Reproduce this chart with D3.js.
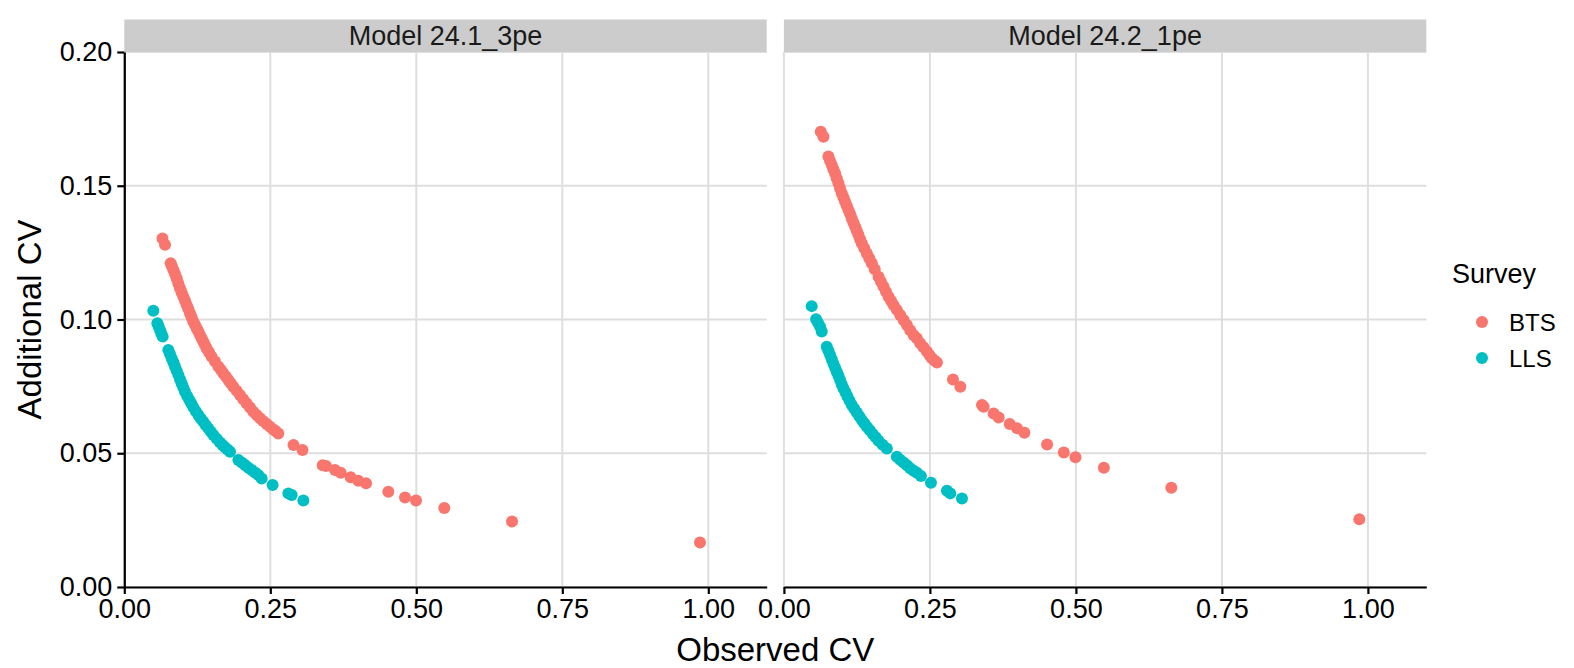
<!DOCTYPE html>
<html>
<head>
<meta charset="utf-8">
<script src="https://cdn.jsdelivr.net/npm/d3@7"></script>
<style>
  body { margin: 0; background: #fff; }
  svg { display: block; }
  text { font-family: "Liberation Sans", Arial, sans-serif; }
</style>
</head>
<body>
<div id="chart"></div>
<script>
// Facets and series
const models = ['Model 24.1_3pe', 'Model 24.2_1pe'];
const surveys = ['BTS', 'LLS'];
const surveyColors = ['#F8766D', '#00BFC4'];

const xTicks = [0, 0.25, 0.5, 0.75, 1.0];
const yTicks = [0, 0.05, 0.10, 0.15, 0.20];

// Model 24.1_3pe
const obsBTS1 = [0.0654, 0.0697,
  0.0794, 0.0817, 0.0840, 0.0868, 0.0897, 0.0925, 0.0954, 0.0982, 0.1011, 0.1040,
  0.1068, 0.1096, 0.1125, 0.1153, 0.1182, 0.1210, 0.1239, 0.1268, 0.1296, 0.1325,
  0.1353, 0.1381, 0.1410, 0.1453, 0.1496, 0.1553, 0.1610, 0.1653, 0.1696, 0.1738,
  0.1781, 0.1824, 0.1867, 0.1924, 0.1981, 0.2038, 0.2095, 0.2152, 0.2209, 0.2266,
  0.2324, 0.2381, 0.2438, 0.2495, 0.2552, 0.2595, 0.2637,
  0.2897, 0.3051, 0.3397, 0.3454, 0.3608, 0.3705, 0.3876, 0.4007, 0.4139, 0.4521,
  0.4807, 0.4995, 0.5480, 0.6639, 0.9858];
const addBTS1 = [0.1303, 0.1279,
  0.1210, 0.1198, 0.1185, 0.1170, 0.1154, 0.1135, 0.1117, 0.1101, 0.1085, 0.1070,
  0.1054, 0.1039, 0.1023, 0.1008, 0.0992, 0.0980, 0.0967, 0.0955, 0.0942, 0.0930,
  0.0917, 0.0905, 0.0892, 0.0877, 0.0861, 0.0843, 0.0824, 0.0812, 0.0799, 0.0787,
  0.0774, 0.0762, 0.0749, 0.0734, 0.0718, 0.0702, 0.0686, 0.0671, 0.0655, 0.0643,
  0.0631, 0.0620, 0.0609, 0.0599, 0.0589, 0.0582, 0.0574,
  0.0531, 0.0512, 0.0455, 0.0452, 0.0437, 0.0427, 0.0410, 0.0397, 0.0388, 0.0356,
  0.0335, 0.0323, 0.0295, 0.0245, 0.0166];
const obsLLS1 = [0.0497, 0.0566, 0.0588, 0.0611, 0.0634, 0.0657,
  0.0754, 0.0782, 0.0811, 0.0840, 0.0868, 0.0897, 0.0925, 0.0954, 0.0982, 0.1010,
  0.1039, 0.1076, 0.1114, 0.1148, 0.1182, 0.1225, 0.1268, 0.1310, 0.1353, 0.1396,
  0.1439, 0.1482, 0.1525, 0.1582, 0.1639, 0.1682, 0.1724, 0.1767, 0.1810,
  0.1953, 0.2010, 0.2067, 0.2124, 0.2181, 0.2238, 0.2295, 0.2352,
  0.2540, 0.2809, 0.2866, 0.3066];
const addLLS1 = [0.1033, 0.0986, 0.0974, 0.0961, 0.0948, 0.0936,
  0.0886, 0.0871, 0.0855, 0.0840, 0.0824, 0.0808, 0.0793, 0.0777, 0.0761, 0.0746,
  0.0730, 0.0714, 0.0699, 0.0686, 0.0672, 0.0657, 0.0643, 0.0630, 0.0618, 0.0605,
  0.0593, 0.0580, 0.0568, 0.0554, 0.0540, 0.0531, 0.0522, 0.0514, 0.0506,
  0.0475, 0.0465, 0.0456, 0.0446, 0.0437, 0.0428, 0.0419, 0.0406,
  0.0381, 0.0350, 0.0344, 0.0323];

// Model 24.2_1pe
const obsBTS2 = [0.0631, 0.0677,
  0.0762, 0.0790, 0.0819, 0.0848, 0.0877, 0.0905, 0.0934, 0.0962, 0.0991, 0.1020,
  0.1048, 0.1077, 0.1105, 0.1134, 0.1162, 0.1191, 0.1220, 0.1248, 0.1277, 0.1305,
  0.1334, 0.1377, 0.1420, 0.1462, 0.1505, 0.1555,
  0.1620, 0.1662, 0.1705, 0.1748, 0.1791, 0.1834, 0.1877, 0.1934, 0.1991, 0.2049,
  0.2106, 0.2163, 0.2220, 0.2277, 0.2334, 0.2391, 0.2449, 0.2492, 0.2535, 0.2578, 0.2620,
  0.2895, 0.3021, 0.3392, 0.3420, 0.3592, 0.3678, 0.3867, 0.3993, 0.4118, 0.4507,
  0.4793, 0.4993, 0.5479, 0.6634, 0.9853];
const addBTS2 = [0.1702, 0.1683,
  0.1609, 0.1593, 0.1578, 0.1562, 0.1546, 0.1528, 0.1509, 0.1490, 0.1472, 0.1456,
  0.1440, 0.1425, 0.1409, 0.1394, 0.1378, 0.1362, 0.1347, 0.1332, 0.1316, 0.1300,
  0.1285, 0.1266, 0.1247, 0.1229, 0.1210, 0.1188,
  0.1160, 0.1141, 0.1123, 0.1104, 0.1085, 0.1070, 0.1054, 0.1036, 0.1017, 0.0998,
  0.0979, 0.0960, 0.0942, 0.0930, 0.0911, 0.0896, 0.0880, 0.0867, 0.0855, 0.0847, 0.0839,
  0.0776, 0.0749, 0.0680, 0.0674, 0.0649, 0.0634, 0.0609, 0.0593, 0.0577, 0.0533,
  0.0503, 0.0485, 0.0446, 0.0371, 0.0253];
const obsLLS2 = [0.0476, 0.0551, 0.0585, 0.0620, 0.0648,
  0.0734, 0.0762, 0.0791, 0.0820, 0.0848, 0.0877, 0.0905, 0.0934, 0.0962, 0.0990,
  0.1019, 0.1054, 0.1088, 0.1125, 0.1162, 0.1205, 0.1248, 0.1291, 0.1334, 0.1377,
  0.1420, 0.1472, 0.1523, 0.1572, 0.1620, 0.1690, 0.1763,
  0.1934, 0.1990, 0.2049, 0.2106, 0.2163, 0.2220, 0.2277, 0.2346,
  0.2518, 0.2792, 0.2849, 0.3049];
const addLLS2 = [0.1050, 0.1001, 0.0987, 0.0973, 0.0955,
  0.0898, 0.0883, 0.0867, 0.0851, 0.0835, 0.0820, 0.0805, 0.0790, 0.0774, 0.0758,
  0.0743, 0.0728, 0.0712, 0.0696, 0.0680, 0.0666, 0.0652, 0.0638, 0.0624, 0.0612,
  0.0599, 0.0586, 0.0572, 0.0560, 0.0547, 0.0532, 0.0518,
  0.0487, 0.0476, 0.0465, 0.0455, 0.0444, 0.0435, 0.0427, 0.0415,
  0.0390, 0.0360, 0.0350, 0.0331];

const panelData = [
  [[obsBTS1, addBTS1], [obsLLS1, addLLS1]],
  [[obsBTS2, addBTS2], [obsLLS2, addLLS2]]
];

const width = 1574, height = 668;
const panelLeft = [124.3, 783.9];
const panelW = 642.4;
const panelTop = 52, panelBottom = 587;
const stripTop = 19.5;
const fontStack = '"Liberation Sans", Arial, sans-serif';

const svg = d3.select('#chart')
  .append('svg')
  .attr('width', width)
  .attr('height', height);

const y = d3.scaleLinear().domain([0, 0.2]).range([panelBottom, panelTop]);
const color = d3.scaleOrdinal().domain(surveys).range(surveyColors);

models.forEach((model, i) => {
  const x = d3.scaleLinear().domain([0, 1.1]).range([panelLeft[i], panelLeft[i] + panelW]);
  const g = svg.append('g');

  // Grid
  g.selectAll('.gx').data(xTicks).enter().append('line')
    .attr('x1', d => x(d)).attr('x2', d => x(d))
    .attr('y1', panelTop).attr('y2', panelBottom)
    .attr('stroke', '#dedede').attr('stroke-width', 2);
  g.selectAll('.gy').data(yTicks).enter().append('line')
    .attr('x1', panelLeft[i]).attr('x2', panelLeft[i] + panelW)
    .attr('y1', d => y(d)).attr('y2', d => y(d))
    .attr('stroke', '#dedede').attr('stroke-width', 2);

  // Strip
  g.append('rect')
    .attr('x', panelLeft[i]).attr('y', stripTop)
    .attr('width', panelW).attr('height', panelTop - stripTop)
    .attr('fill', '#cccccc');
  g.append('text')
    .attr('x', panelLeft[i] + panelW / 2)
    .attr('y', (stripTop + panelTop) / 2)
    .attr('dy', '0.36em')
    .attr('text-anchor', 'middle')
    .attr('font-size', '27px')
    .attr('fill', '#1a1a1a')
    .text(model);

  // Points
  surveys.forEach((s, k) => {
    const [obs, add] = panelData[i][k];
    g.selectAll('.pt' + k).data(obs.map((o, j) => [o, add[j]])).enter().append('circle')
      .attr('cx', d => x(d[0]))
      .attr('cy', d => y(d[1]))
      .attr('r', 6)
      .attr('fill', color(s));
  });

  // X axis
  const xAxis = g.append('g')
    .attr('transform', `translate(0,${panelBottom})`)
    .call(d3.axisBottom(x).tickValues(xTicks).tickFormat(d3.format('.2f')).tickSize(7).tickPadding(5).tickSizeOuter(0));
  xAxis.select('.domain').attr('stroke', '#000').attr('stroke-width', 2.2);
  xAxis.selectAll('.tick line').attr('stroke', '#000').attr('stroke-width', 2.2);
  xAxis.selectAll('.tick text').attr('font-size', '27px').attr('fill', '#000')
    .attr('font-family', fontStack);

  // Y axis only on the first facet
  if (i === 0) {
    const yAxis = g.append('g')
      .attr('transform', `translate(${panelLeft[i]},0)`)
      .call(d3.axisLeft(y).tickValues(yTicks).tickFormat(d3.format('.2f')).tickSize(7).tickPadding(5).tickSizeOuter(0));
    yAxis.select('.domain').attr('stroke', '#000').attr('stroke-width', 2.2);
    yAxis.selectAll('.tick line').attr('stroke', '#000').attr('stroke-width', 2.2);
    yAxis.selectAll('.tick text').attr('font-size', '27px').attr('fill', '#000')
      .attr('font-family', fontStack);
  }
});

// Axis titles
svg.append('text')
  .attr('x', (panelLeft[0] + panelLeft[1] + panelW) / 2)
  .attr('y', 661)
  .attr('text-anchor', 'middle')
  .attr('font-size', '33px')
  .attr('fill', '#000')
  .text('Observed CV');

svg.append('text')
  .attr('transform', `translate(41,${(panelTop + panelBottom) / 2}) rotate(-90)`)
  .attr('text-anchor', 'middle')
  .attr('font-size', '33px')
  .attr('fill', '#000')
  .text('Additional CV');

// Legend
const legend = svg.append('g').attr('transform', 'translate(1452,0)');
legend.append('text')
  .attr('x', 0).attr('y', 283)
  .attr('font-size', '27px')
  .attr('fill', '#000')
  .text('Survey');

surveys.forEach((s, k) => {
  legend.append('circle')
    .attr('cx', 30).attr('cy', 322 + k * 36)
    .attr('r', 6)
    .attr('fill', color(s));
  legend.append('text')
    .attr('x', 57).attr('y', 322 + k * 36)
    .attr('dy', '0.36em')
    .attr('font-size', '24px')
    .attr('fill', '#000')
    .text(s);
});
</script>
</body>
</html>
